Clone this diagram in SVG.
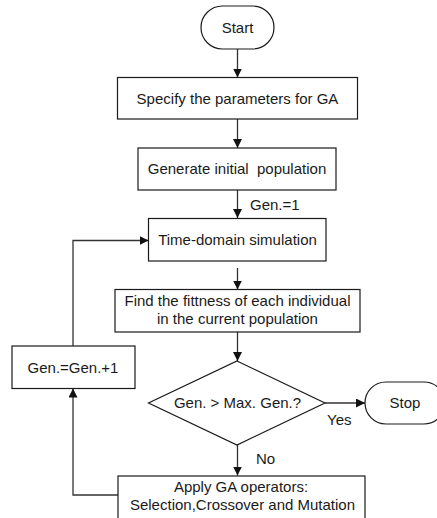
<svg xmlns="http://www.w3.org/2000/svg" width="437" height="518" viewBox="0 0 437 518">
<style>
.n{fill:#fff;stroke:#1a1a1a;stroke-width:1.2}
.t{font-family:"Liberation Sans",Arial,sans-serif;font-size:15px;fill:#1a1a1a;text-anchor:middle}
.l{font-family:"Liberation Sans",Arial,sans-serif;font-size:15px;fill:#1a1a1a}
.c{fill:none;stroke:#333;stroke-width:1.3}
</style>
<defs>
<marker id="ah" viewBox="0 0 10 10" refX="10" refY="5" markerWidth="9" markerHeight="9" markerUnits="userSpaceOnUse" orient="auto">
<path d="M0,0 L10,5 L0,10 Z" fill="#111"/>
</marker>
</defs>
<rect width="437" height="518" fill="#fff"/>
<g id="connectors">
<line class="c" x1="237.5" y1="49" x2="237.5" y2="77.5" marker-end="url(#ah)"/>
<line class="c" x1="237.5" y1="119" x2="237.5" y2="148" marker-end="url(#ah)"/>
<line class="c" x1="237.5" y1="190" x2="237.5" y2="218" marker-end="url(#ah)"/>
<line class="c" x1="237.5" y1="268" x2="237.5" y2="289.5" marker-end="url(#ah)"/>
<line class="c" x1="237.5" y1="332" x2="237.5" y2="361" marker-end="url(#ah)"/>
<line class="c" x1="325" y1="403" x2="365" y2="403" marker-end="url(#ah)"/>
<line class="c" x1="237.5" y1="445" x2="237.5" y2="475.5" marker-end="url(#ah)"/>
<polyline class="c" points="118,495 73,495 73,388.5" marker-end="url(#ah)"/>
<polyline class="c" points="73,346 73,240.5 148.5,240.5" marker-end="url(#ah)"/>
<text class="l" x="250" y="210">Gen.=1</text>
<text class="l" x="327" y="425">Yes</text>
<text class="l" x="256" y="463.5">No</text>
</g>
<g id="start">
<rect class="n" x="201" y="6" width="73" height="43" rx="21.5"/>
<text class="t" x="237.5" y="33">Start</text>
</g>
<g id="specify">
<rect class="n" x="117.5" y="77.5" width="240" height="41.5"/>
<text class="t" x="237.5" y="104">Specify the parameters for GA</text>
</g>
<g id="generate">
<rect class="n" x="138" y="148" width="198" height="42"/>
<text class="t" x="237" y="174" xml:space="preserve">Generate initial  population</text>
</g>
<g id="simulation">
<rect class="n" x="148.5" y="218.5" width="177.5" height="42.5"/>
<text class="t" x="237.5" y="245">Time-domain simulation</text>
</g>
<g id="fitness">
<rect class="n" x="115" y="289.5" width="245" height="42.5"/>
<text class="t" x="237.5" y="305.5">Find the fittness of each individual</text>
<text class="t" x="237.5" y="324">in the current population</text>
</g>
<g id="increment">
<rect class="n" x="12" y="346" width="123" height="42.5"/>
<text class="t" x="73" y="372.5">Gen.=Gen.+1</text>
</g>
<g id="decision">
<polygon class="n" points="237,361 325,403 237,445 148.5,403"/>
<text class="t" x="237.5" y="407.5">Gen. &gt; Max. Gen.?</text>
</g>
<g id="stop">
<rect class="n" x="365" y="382" width="80" height="42" rx="21"/>
<text class="t" x="405" y="407.5">Stop</text>
</g>
<g id="operators">
<rect class="n" x="118" y="476" width="247" height="45"/>
<text class="t" x="241" y="491.5">Apply GA operators:</text>
<text class="t" x="242.5" y="510">Selection,Crossover and Mutation</text>
</g>
</svg>
